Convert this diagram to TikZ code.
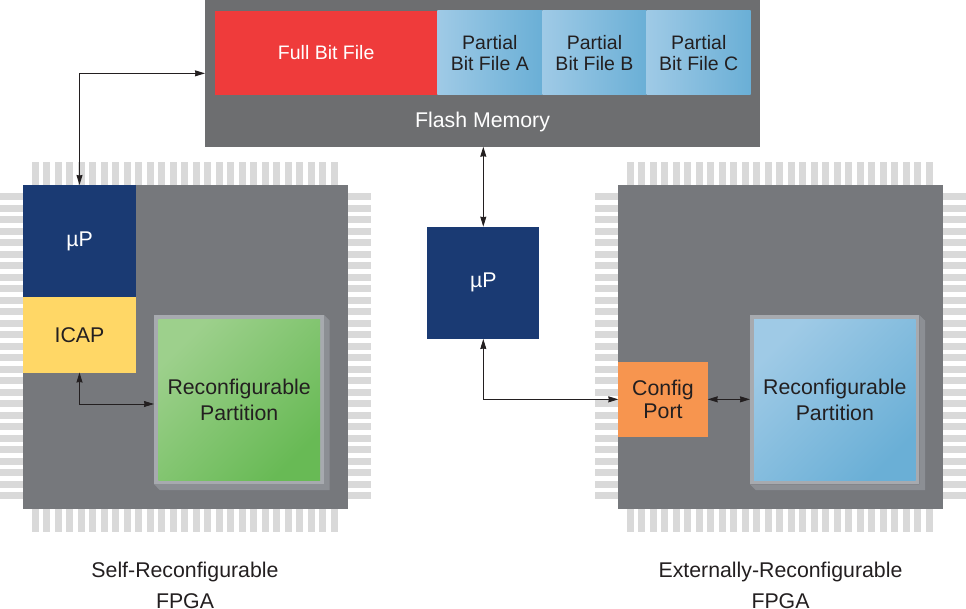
\documentclass[tikz,border=0pt]{standalone}
\usepackage{fontspec}
\setmainfont{Liberation Sans}
\usetikzlibrary{arrows.meta,calc}
\definecolor{fpgagray}{HTML}{76787C}
\definecolor{flashgray}{HTML}{6D6E70}
\definecolor{pingray}{HTML}{D9D9D9}
\definecolor{navy}{HTML}{1A3A73}
\definecolor{icapyel}{HTML}{FFD766}
\definecolor{fullred}{HTML}{EF3B3B}
\definecolor{grnlt}{HTML}{9DD08C}
\definecolor{grndk}{HTML}{68BA55}
\definecolor{blult}{HTML}{9FCAE6}
\definecolor{bludk}{HTML}{6AAFD6}
\definecolor{cfgorg}{HTML}{F7954F}
\definecolor{framegray}{HTML}{A7AAAF}
\definecolor{bevelgray}{HTML}{8C8F94}
\definecolor{txtdark}{HTML}{231F20}
\begin{document}
\begin{tikzpicture}[x=1pt,y=-1pt,
  every node/.style={inner sep=0pt,outer sep=0pt},
  font=\fontsize{21.3pt}{23pt}\selectfont,
  smallfont/.style={font=\fontsize{19.5pt}{21pt}\selectfont},
  blk/.style={rectangle,anchor=north west,align=center},
  pin/.style={fill=pingray},
  >={Stealth[length=10pt,width=6pt,inset=0.5pt]},
  conn/.style={draw=txtdark,line width=0.9pt,<->}]
\useasboundingbox (0,0) rectangle (966,609);
\clip (0,0) rectangle (966,609);
% pins and FPGA bodies
\foreach \bx in {23,618}{
  \foreach \i in {0,...,26}{
    \fill[pin] ({\bx+8.5+11.5*\i},162) rectangle ++(7.2,23);
    \fill[pin] ({\bx+8.5+11.5*\i},509) rectangle ++(7.2,23);
    \fill[pin] ({\bx-23},{185+8.3+11.5*\i}) rectangle ++(23,7);
    \fill[pin] ({\bx+324.5},{185+8.3+11.5*\i}) rectangle ++(23,7);
  }
}
\node[blk,fill=fpgagray,minimum width=324.5pt,minimum height=324pt] (fpgaL) at (23,185) {};
\node[blk,fill=fpgagray,minimum width=324.5pt,minimum height=324pt] (fpgaR) at (618,185) {};
% flash memory
\node[blk,fill=flashgray,minimum width=555pt,minimum height=146.7pt] (flash) at (205,0) {};
\node[blk,smallfont,fill=fullred,text=white,minimum width=222.3pt,minimum height=84pt] (full) at (215,11) {Full Bit File};
\node[blk,smallfont,left color=blult,right color=bludk,text=txtdark,minimum width=105pt,minimum height=84pt] (pa) at (437.3,11) {Partial\\Bit File A};
\node[blk,smallfont,left color=blult,right color=bludk,text=txtdark,minimum width=104.4pt,minimum height=84pt] (pb) at (542.3,11) {Partial\\Bit File B};
\node[blk,smallfont,left color=blult,right color=bludk,text=txtdark,minimum width=104pt,minimum height=84pt] (pc) at (646.7,11) {Partial\\Bit File C};
\node[text=white] (flashlbl) at (482.5,122) {Flash Memory};
% left FPGA contents
\node[blk,fill=navy,text=white,minimum width=113pt,minimum height=112pt] (lmup) at (23,185) {µP};
\node[blk,fill=icapyel,text=txtdark,minimum width=113pt,minimum height=75.5pt] (icap) at (23,297) {ICAP};
\fill[bevelgray] (324,315) -- (329.5,320.5) -- (329.5,490) -- (159.5,490) -- (154,484) -- (324,484) -- cycle;
\node[blk,fill=framegray,minimum width=170pt,minimum height=169pt] (rpL) at (154,315) {};
\node[blk,top color=grnlt,bottom color=grndk,shading angle=45,text=txtdark,minimum width=161.7pt,minimum height=160.7pt,
  font=\fontsize{21.3pt}{25.5pt}\selectfont] (rpLin) at (158.3,319.3) {Reconfigurable\\Partition};
% middle uP
\node[blk,fill=navy,text=white,minimum width=112pt,minimum height=112.3pt] (mup) at (427.3,226.7) {µP};
% right FPGA contents
\fill[bevelgray] (919.3,315) -- (925,320.5) -- (925,490) -- (755.5,490) -- (750,484.3) -- (919.3,484.3) -- cycle;
\node[blk,fill=framegray,minimum width=169.3pt,minimum height=169.3pt] (rpR) at (750,315) {};
\node[blk,top color=blult,bottom color=bludk,shading angle=45,text=txtdark,minimum width=161.7pt,minimum height=161.4pt,
  font=\fontsize{21.3pt}{25.5pt}\selectfont] (rpRin) at (754,319.3) {Reconfigurable\\Partition};
\node[blk,fill=cfgorg,text=txtdark,minimum width=89.4pt,minimum height=74.7pt,
  font=\fontsize{21.3pt}{23pt}\selectfont] (cfg) at (618.3,362) {Config\\Port};
% captions
\node[anchor=north,align=center,text=txtdark,font=\fontsize{21.3pt}{31pt}\selectfont] (capL) at (185,562) {Self-Reconfigurable\\FPGA};
\node[anchor=north,align=center,text=txtdark,font=\fontsize{21.3pt}{31pt}\selectfont] (capR) at (780.5,562) {Externally-Reconfigurable\\FPGA};
% connectors
\draw[conn] (lmup.north) |- (flash.west);
\coordinate (rpLarr) at ($(rpL.west)+(0,4.5)$);
\draw[conn] (icap.south) |- (rpLarr);
\draw[conn] (mup.north |- flash.south) -- (mup.north);
\draw[conn] (mup.south) |- (cfg.west);
\draw[conn] (cfg.east) -- (cfg.east -| rpR.west);
\end{tikzpicture}
\end{document}
